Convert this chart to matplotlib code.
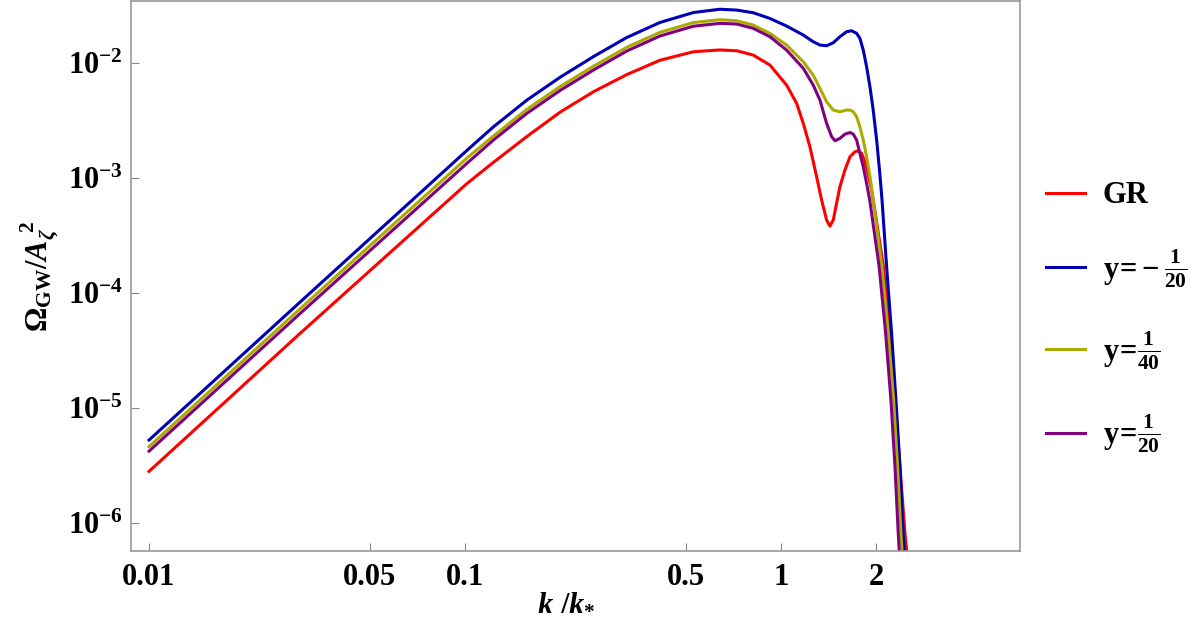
import matplotlib
matplotlib.use('Agg')
import matplotlib.pyplot as plt
from matplotlib.lines import Line2D

plt.rcParams['font.family'] = ['Liberation Serif', 'DejaVu Serif']
plt.rcParams['font.weight'] = 'bold'
plt.rcParams['mathtext.fontset'] = 'custom'
plt.rcParams['mathtext.rm'] = 'Liberation Serif:bold'
plt.rcParams['mathtext.bf'] = 'Liberation Serif:bold'
plt.rcParams['mathtext.it'] = 'Liberation Serif:bold:italic'

# values (k/k*, Omega_GW/A^2)
k_gr = [0.01, 0.03, 0.1015, 0.123, 0.157, 0.2, 0.255, 0.325, 0.414, 0.528, 0.641,
        0.724, 0.817, 0.923, 1.042, 1.121, 1.177, 1.235, 1.297, 1.345, 1.395, 1.429,
        1.464, 1.50, 1.537, 1.594, 1.654, 1.715, 1.757, 1.80, 1.845, 1.89, 1.936,
        1.96, 2.11, 2.213, 2.296, 2.381, 2.469, 2.499]
om_gr = [2.8e-6, 4.43e-5, 9.0e-4, 1.374e-3, 2.307e-3, 3.76e-3, 5.66e-3, 7.98e-3, 1.064e-2,
         1.262e-2, 1.309e-2, 1.288e-2, 1.181e-2, 9.66e-3, 6.47e-3, 4.49e-3, 3.0e-3,
         1.88e-3, 1.03e-3, 6.46e-4, 4.32e-4, 3.83e-4, 4.32e-4, 6.04e-4, 8.43e-4,
         1.178e-3, 1.538e-3, 1.7e-3, 1.734e-3, 1.646e-3, 1.39e-3, 1.065e-3, 7.88e-4,
         6.46e-4, 1.694e-4, 4.46e-5, 1.17e-5, 3.08e-6, 8.1e-7, 5.8e-7]

k_m20 = [0.01, 0.03, 0.1015, 0.123, 0.157, 0.2, 0.255, 0.325, 0.414, 0.528, 0.641,
         0.724, 0.817, 0.923, 1.042, 1.177, 1.265, 1.329, 1.395, 1.464, 1.537, 1.614,
         1.674, 1.736, 1.778, 1.822, 1.867, 1.913, 1.959, 2.008, 2.057, 2.089, 2.16,
         2.24, 2.312, 2.381, 2.438, 2.455]
om_m20 = [5.25e-6, 8.3e-5, 1.75e-3, 2.8e-3, 4.79e-3, 7.57e-3, 1.145e-2, 1.679e-2, 2.27e-2,
          2.77e-2, 2.96e-2, 2.91e-2, 2.76e-2, 2.46e-2, 2.113e-2, 1.764e-2, 1.543e-2,
          1.443e-2, 1.424e-2, 1.512e-2, 1.706e-2, 1.886e-2, 1.923e-2, 1.824e-2, 1.652e-2,
          1.305e-2, 9.34e-3, 6.25e-3, 3.92e-3, 2.17e-3, 1.077e-3, 6.46e-4, 1.694e-4,
          4.46e-5, 1.17e-5, 3.08e-6, 8.1e-7, 5.8e-7]

k_p40 = [0.01, 0.03, 0.1015, 0.123, 0.157, 0.2, 0.255, 0.325, 0.414, 0.528, 0.641,
         0.724, 0.817, 0.923, 1.042, 1.177, 1.265, 1.329, 1.395, 1.464, 1.537, 1.614,
         1.654, 1.694, 1.736, 1.778, 1.822, 1.867, 1.913, 1.96, 2.087, 2.186, 2.274,
         2.34, 2.398, 2.415]
om_p40 = [4.6e-6, 7.26e-5, 1.5e-3, 2.33e-3, 3.98e-3, 6.28e-3, 9.44e-3, 1.38e-2, 1.862e-2,
          2.265e-2, 2.4e-2, 2.35e-2, 2.156e-2, 1.824e-2, 1.443e-2, 1.033e-2, 7.91e-3,
          6.06e-3, 4.63e-3, 3.92e-3, 3.79e-3, 3.92e-3, 3.92e-3, 3.79e-3, 3.43e-3, 2.8e-3,
          2.15e-3, 1.538e-3, 1.03e-3, 6.46e-4, 1.694e-4, 4.46e-5, 1.17e-5, 3.08e-6,
          8.1e-7, 5.8e-7]

k_p20 = [0.01, 0.03, 0.1015, 0.123, 0.157, 0.2, 0.255, 0.325, 0.414, 0.528, 0.641,
         0.724, 0.817, 0.923, 1.042, 1.177, 1.265, 1.329, 1.395, 1.447, 1.482, 1.537,
         1.594, 1.654, 1.694, 1.736, 1.778, 1.822, 1.867, 1.91, 2.046, 2.145, 2.229,
         2.296, 2.351, 2.368]
om_p20 = [4.2e-6, 6.6e-5, 1.35e-3, 2.15e-3, 3.67e-3, 5.81e-3, 8.75e-3, 1.28e-2, 1.73e-2,
          2.106e-2, 2.23e-2, 2.2e-2, 2.018e-2, 1.706e-2, 1.305e-2, 9.05e-3, 6.47e-3,
          4.79e-3, 3.0e-3, 2.3e-3, 2.12e-3, 2.22e-3, 2.42e-3, 2.5e-3, 2.42e-3, 2.15e-3,
          1.646e-3, 1.26e-3, 9.0e-4, 6.46e-4, 1.694e-4, 4.46e-5, 1.17e-5, 3.08e-6,
          8.1e-7, 5.8e-7]

labels = ['GR', r'$\mathbf{y\!=\!-\frac{1}{20}}$', r'$\mathbf{y\!=\!\frac{1}{40}}$',
          r'$\mathbf{y\!=\!\frac{1}{20}}$']
colors = ['#ff0000', '#0000b4', '#aaaa00', '#800080']
legend_y = [0.694, 0.581, 0.453, 0.323]   # figure fraction of each legend row

x_ticks = [0.01, 0.05, 0.1, 0.5, 1, 2]
x_ticklabels = ['0.01', '0.05', '0.1', '0.5', '1', '2']
y_ticks = [1e-6, 1e-5, 1e-4, 1e-3, 1e-2]
y_ticklabels = [r'$\mathbf{10^{-6}}$', r'$\mathbf{10^{-5}}$', r'$\mathbf{10^{-4}}$',
                r'$\mathbf{10^{-3}}$', r'$\mathbf{10^{-2}}$']

fig = plt.figure(figsize=(12, 6.4), dpi=100)
ax = fig.add_axes([0.1092, 0.1398, 0.7408, 0.8586])

series = [(k_gr, om_gr), (k_m20, om_m20), (k_p40, om_p40), (k_p20, om_p20)]
for (k, om), c in zip(series, colors):
    ax.plot(k, om, color=c, lw=2.2, solid_joinstyle='round')

ax.set_xscale('log')
ax.set_yscale('log')
ax.set_xlim(0.00877, 5.71)
ax.set_ylim(5.73e-7, 0.0349)

ax.set_xticks(x_ticks)
ax.set_xticklabels(x_ticklabels)
ax.set_yticks(y_ticks)
ax.set_yticklabels(y_ticklabels)
ax.minorticks_off()
ax.tick_params(direction='in', length=6, width=0.8, color='#888888', labelsize=22)
ax.tick_params(axis='x', pad=9)
ax.tick_params(axis='y', pad=6)
for s in ax.spines.values():
    s.set_color('#999999')
    s.set_linewidth(1.2)

ax.set_xlabel(r'$\mathit{k}\ /\mathit{k}_{*}$', fontsize=22)
ax.xaxis.set_label_coords(0.49, -0.068)
ax.set_ylabel(r'$\Omega_{\mathbf{GW}}/\mathit{A}_{\zeta}^{\ 2}$', fontsize=22)
ax.yaxis.set_label_coords(-0.078, 0.5)

# one legend per row so the rows sit where the reference has them
for lab, c, yy in zip(labels, colors, legend_y):
    h = Line2D([], [], color=c, lw=2.2)
    fig.legend([h], [lab], loc='center left', bbox_to_anchor=(0.872, yy), frameon=False,
               fontsize=22, handlelength=1.25, handletextpad=0.6, borderpad=0,
               borderaxespad=0)

fig.savefig('out.png', dpi=100)
